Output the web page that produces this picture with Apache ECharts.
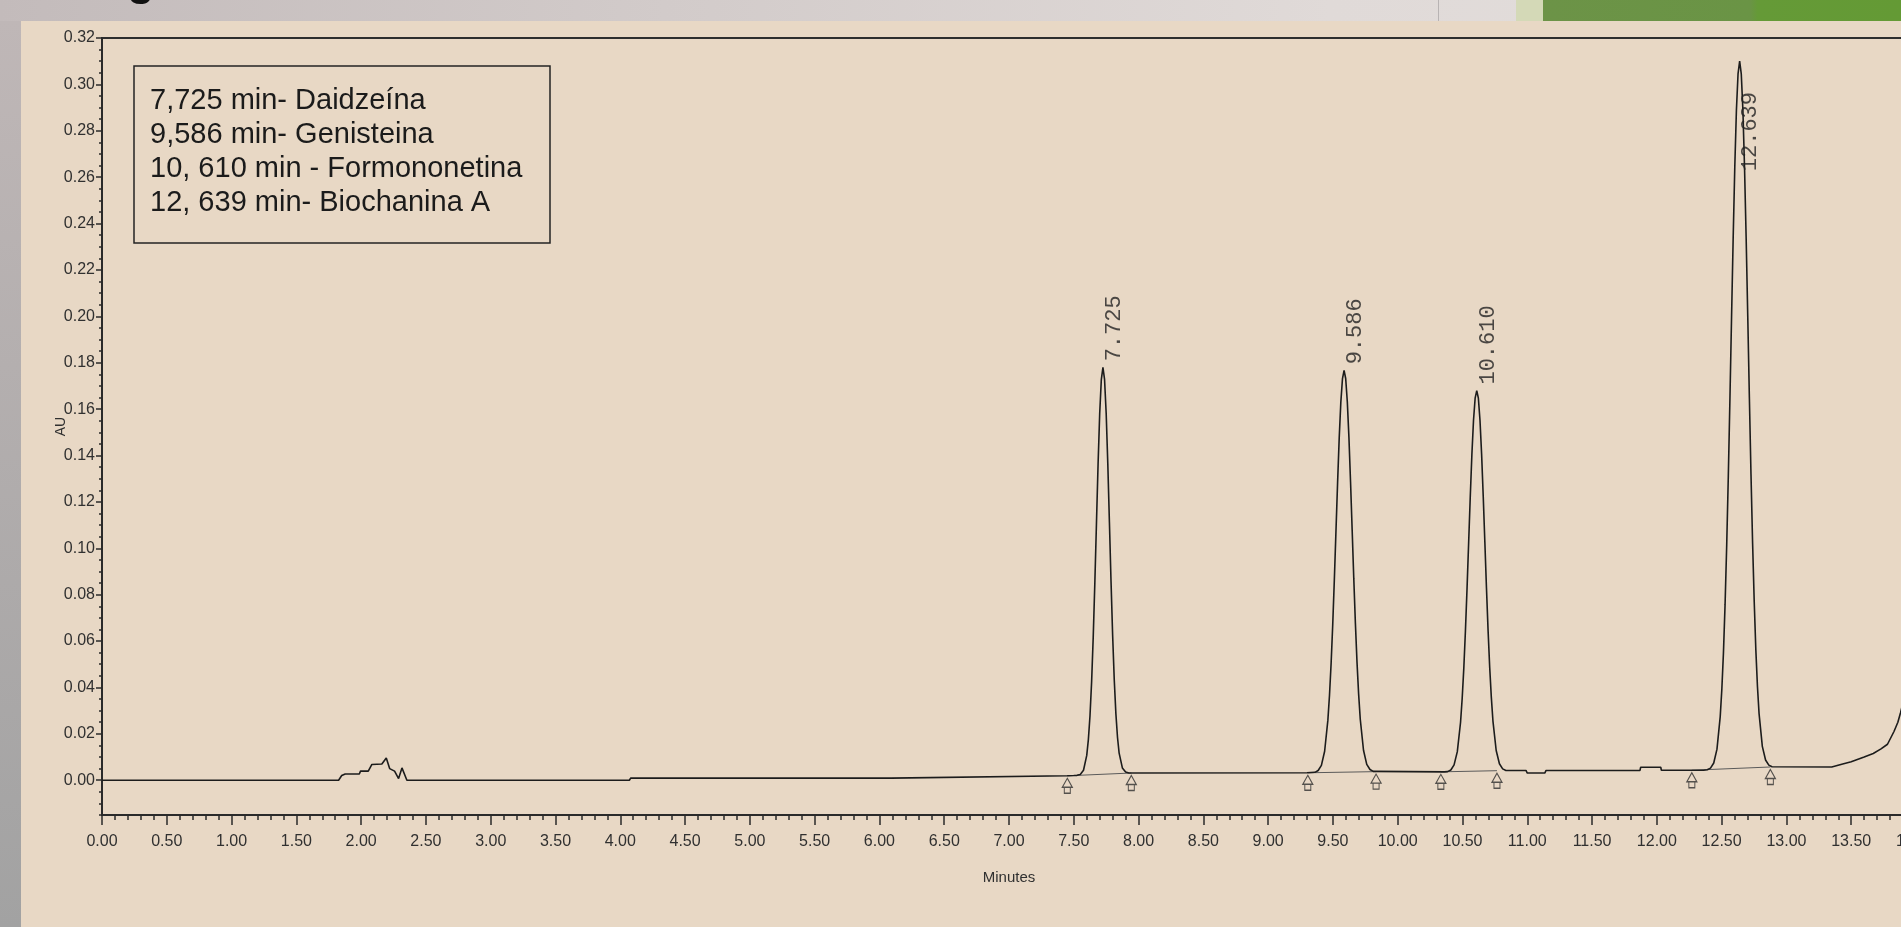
<!DOCTYPE html>
<html>
<head>
<meta charset="utf-8">
<script src="https://cdn.jsdelivr.net/npm/echarts@6/dist/echarts.min.js"></script>
<style>
html,body{margin:0;padding:0;width:1901px;height:927px;overflow:hidden;background:#d6cfcd;}
#topband{position:absolute;left:0;top:0;width:1901px;height:21px;background:linear-gradient(to right,#c3bbbb 0%,#d2cbca 35%,#e0dad8 70%,#e3dedc 100%);}
#vline{position:absolute;left:1438px;top:0;width:1px;height:21px;background:#b8b3b3;}
#lightgreen{position:absolute;left:1516px;top:0;width:27px;height:21px;background:#d4d9b7;}
#green{position:absolute;left:1543px;top:0;width:358px;height:21px;background:linear-gradient(to right,#6c9347 0%,#6a9445 58%,#659a37 60%,#649a35 100%);}
#leftstrip{position:absolute;left:0;top:21px;width:21px;height:906px;background:linear-gradient(to bottom,#bfb7b7,#a2a2a2);}
#panel{position:absolute;left:21px;top:21px;width:1880px;height:906px;background:#e8d8c5;}
#chart{position:absolute;left:0;top:0;width:1901px;height:927px;}
</style>
</head>
<body>
<div id="topband"></div>
<div id="vline"></div>
<div id="lightgreen"></div>
<div id="green"></div>
<div id="leftstrip"></div>
<div id="panel"></div>
<div id="chart"></div>
<script>
// ---- data ----
const times = [
  0, 1.826, 1.85, 1.877, 1.986, 1.995, 2.055, 2.083, 2.16, 2.194, 2.22, 2.258, 2.289, 2.315, 2.353,
  4.07, 4.08, 6.09, 6.1, 7.45, 7.5,
  7.525, 7.55, 7.575, 7.6, 7.6125, 7.625, 7.6375, 7.65, 7.6625, 7.675, 7.6875, 7.7, 7.7125, 7.725,
  7.7375, 7.75, 7.7625, 7.775, 7.7875, 7.8, 7.8125, 7.825, 7.8375, 7.85, 7.875, 7.9, 7.925,
  9.3, 9.361, 9.386, 9.411, 9.436, 9.461, 9.4735, 9.486, 9.4985, 9.511, 9.5235, 9.536, 9.5485, 9.561, 9.5735, 9.586,
  9.5985, 9.611, 9.6235, 9.636, 9.6485, 9.661, 9.6735, 9.686, 9.6985, 9.711, 9.736, 9.761, 9.786, 9.811,
  10.36, 10.385, 10.41, 10.435, 10.46, 10.485, 10.4975, 10.51, 10.5225, 10.535, 10.5475, 10.56, 10.5725, 10.585, 10.5975, 10.61,
  10.6225, 10.635, 10.6475, 10.66, 10.6725, 10.685, 10.6975, 10.71, 10.7225, 10.735, 10.76, 10.785, 10.81, 10.835,
  10.99, 11.0, 11.135, 11.145, 11.27, 11.28, 11.29, 11.87, 11.875, 12.03, 12.035, 12.36,
  12.389, 12.414, 12.439, 12.464, 12.489, 12.5015, 12.514, 12.5265, 12.539, 12.5515, 12.564, 12.5765, 12.589, 12.6015, 12.614, 12.6265, 12.639,
  12.6515, 12.664, 12.6765, 12.689, 12.7015, 12.714, 12.7265, 12.739, 12.7515, 12.764, 12.7765, 12.789, 12.814, 12.839, 12.864, 12.889,
  13.35, 13.42, 13.5, 13.6, 13.67, 13.73, 13.78, 13.83, 13.86, 13.88, 13.92, 13.96
];
const absorbance = [
  0, 0, 0.002, 0.0027, 0.0027, 0.0039, 0.0039, 0.0068, 0.007, 0.0096, 0.005, 0.0039, 0.0007, 0.0053, 0,
  0, 0.0009, 0.0009, 0.0017, 0.0019, 0.002,
  0.0021, 0.0025, 0.0043, 0.0107, 0.0175, 0.0277, 0.0423, 0.0617, 0.0851, 0.1108, 0.1363, 0.1581, 0.1727, 0.178,
  0.1728, 0.1582, 0.1365, 0.1112, 0.0856, 0.0623, 0.0431, 0.0286, 0.0184, 0.0117, 0.0053, 0.0035, 0.0031,
  0.0032, 0.0034, 0.0042, 0.0064, 0.0125, 0.0259, 0.0366, 0.0503, 0.0671, 0.0866, 0.1075, 0.1283, 0.1476, 0.163, 0.173, 0.1767,
  0.1732, 0.1632, 0.1478, 0.1286, 0.1078, 0.0869, 0.0675, 0.0507, 0.037, 0.0263, 0.0129, 0.0068, 0.0046, 0.0038,
  0.0036, 0.0037, 0.0044, 0.0066, 0.0123, 0.025, 0.0352, 0.0482, 0.0642, 0.0826, 0.1025, 0.1223, 0.1405, 0.1552, 0.1647, 0.168,
  0.1647, 0.1552, 0.1406, 0.1224, 0.1027, 0.0829, 0.0645, 0.0486, 0.0357, 0.0255, 0.0128, 0.0071, 0.0049, 0.0042,
  0.0042, 0.0031, 0.0031, 0.0042, 0.0042, 0.0036, 0.0042, 0.0042, 0.0056, 0.0056, 0.0043, 0.0043,
  0.0045, 0.0052, 0.0074, 0.0134, 0.0274, 0.0392, 0.055, 0.0758, 0.1012, 0.1312, 0.1645, 0.1996, 0.2339, 0.2645, 0.2889, 0.3045, 0.31,
  0.3045, 0.289, 0.2646, 0.2342, 0.2001, 0.1651, 0.1319, 0.1021, 0.0768, 0.0561, 0.0403, 0.0286, 0.0146, 0.0087, 0.0065, 0.0058,
  0.0057, 0.0068, 0.008, 0.01, 0.0115, 0.0135, 0.0155, 0.021, 0.025, 0.029, 0.038, 0.05
];
const peakTimes = [7.725, 9.586, 10.610, 12.639];
const peakHeights = [0.178, 0.1767, 0.168, 0.310];
const peakLabels = ['7.725', '9.586', '10.610', '12.639'];
// integration start / end marks (pairs per peak)
const markerTimes = [7.45, 7.944, 9.306, 9.833, 10.333, 10.766, 12.27, 12.876];
const markerValues = [0.0019, 0.0031, 0.0032, 0.0037, 0.0036, 0.0041, 0.0043, 0.0057];
const yTicks = [0, 0.02, 0.04, 0.06, 0.08, 0.10, 0.12, 0.14, 0.16, 0.18, 0.20, 0.22, 0.24, 0.26, 0.28, 0.30, 0.32];
const xTicks = [0, 0.5, 1, 1.5, 2, 2.5, 3, 3.5, 4, 4.5, 5, 5.5, 6, 6.5, 7, 7.5, 8, 8.5, 9, 9.5, 10, 10.5, 11, 11.5, 12, 12.5, 13, 13.5, 14];
const legendLines = ['7,725 min- Daidzeína', '9,586 min- Genisteina', '10, 610 min - Formononetina', '12, 639 min- Biochanina A'];
const xAxisName = 'Minutes';
const yAxisName = 'AU';

// ---- chart ----
const INK = '#1c1c1c';
const SANS = "'Liberation Sans',Arial,sans-serif";
const chart = echarts.init(document.getElementById('chart'), null, {renderer: 'canvas'});

const traceData = times.map((t, i) => [t, absorbance[i]]);
const baselineData = [];
for (let i = 0; i < markerTimes.length; i += 2) {
  baselineData.push([markerTimes[i], markerValues[i]]);
  baselineData.push([markerTimes[i + 1], markerValues[i + 1]]);
  baselineData.push([markerTimes[i + 1], '-']);
}
const markerData = markerTimes.map((t, i) => [t, markerValues[i]]);
const labelData = peakTimes.map((t, i) => {
  const item = {name: peakLabels[i], value: [t, peakHeights[i]]};
  if (i === 3) item.label = {position: [1, 111]};
  return item;
});

const axisLineStyle = {color: '#2a2a2a', width: 2};
const option = {
  animation: false,
  backgroundColor: 'transparent',
  grid: {left: 102, top: 38, right: -15, bottom: 112, show: true, borderColor: '#2e2e2e', borderWidth: 2, backgroundColor: 'transparent', containLabel: false, outerBoundsMode: 'none'},
  xAxis: [
    {type: 'value', min: 0, max: 14, interval: 0.1, position: 'bottom', offset: 0,
     axisLine: {show: true, onZero: false, lineStyle: axisLineStyle},
     axisTick: {show: true, length: 5, lineStyle: {color: '#2a2a2a', width: 1.5}},
     axisLabel: {show: false}, splitLine: {show: false}},
    {type: 'value', min: 0, max: 14, position: 'bottom', offset: 0,
     axisLine: {show: false, onZero: false},
     axisTick: {show: true, customValues: xTicks, length: 10, lineStyle: {color: '#2a2a2a', width: 1.5}},
     axisLabel: {show: true, customValues: xTicks, formatter: v => v.toFixed(2), margin: 19, fontFamily: SANS, fontSize: 16, color: '#303030'},
     splitLine: {show: false},
     name: xAxisName, nameLocation: 'middle', nameGap: 55, nameMoveOverlap: false,
     nameTextStyle: {fontFamily: SANS, fontSize: 15, color: '#303030'}}
  ],
  yAxis: [
    {type: 'value', min: -0.015, max: 0.32, interval: 0.005, position: 'left', offset: 0,
     axisLine: {show: true, onZero: false, lineStyle: axisLineStyle},
     axisTick: {show: true, length: 3, lineStyle: {color: '#2a2a2a', width: 1.5}},
     axisLabel: {show: false}, splitLine: {show: false}},
    {type: 'value', min: -0.015, max: 0.32, position: 'left', offset: 0,
     axisLine: {show: false, onZero: false},
     axisTick: {show: true, customValues: yTicks, length: 6, lineStyle: {color: '#2a2a2a', width: 1.5}},
     axisLabel: {show: true, customValues: yTicks, formatter: v => v.toFixed(2), margin: 7, fontFamily: SANS, fontSize: 16, color: '#303030'},
     splitLine: {show: false},
     name: yAxisName, nameLocation: 'middle', nameGap: 34, nameRotate: 90, nameMoveOverlap: false,
     nameTextStyle: {fontFamily: SANS, fontSize: 14, color: '#303030'}}
  ],
  series: [
    {type: 'line', name: 'trace', xAxisIndex: 0, yAxisIndex: 0, data: traceData, showSymbol: false, symbol: 'none',
     lineStyle: {color: INK, width: 1.6}, silent: true, z: 3},
    {type: 'line', name: 'baseline', xAxisIndex: 0, yAxisIndex: 0, data: baselineData, showSymbol: false, symbol: 'none',
     connectNulls: false, lineStyle: {color: '#5a5a5a', width: 1}, silent: true, z: 2},
    {type: 'scatter', name: 'marks', xAxisIndex: 0, yAxisIndex: 0, data: markerData,
     symbol: 'path://M5,0 L10,9 L0,9 Z M2,9 L8,9 L8,15 L2,15 Z', symbolSize: [10, 15], symbolOffset: [0, 10],
     itemStyle: {color: '#e8d8c5', borderColor: '#2e2e2e', borderWidth: 1.2}, silent: true, z: 4},
    {type: 'scatter', name: 'peaklabels', xAxisIndex: 0, yAxisIndex: 0, data: labelData,
     symbolSize: 2, itemStyle: {color: 'rgba(0,0,0,0)'}, silent: true, z: 5,
     label: {show: true, formatter: '{b}', rotate: 90, position: [1, -5], align: 'left', verticalAlign: 'top',
             fontFamily: "'Liberation Mono','DejaVu Sans Mono',monospace", fontSize: 22, color: '#222'}}
  ],
  graphic: [
    {type: 'text', x: 141, y: -17, silent: true,
     style: {text: 'g', font: 'bold 44px "Liberation Sans", Arial, sans-serif', fill: '#111', align: 'center', verticalAlign: 'middle'}},
    {type: 'rect', shape: {x: 134, y: 66, width: 416, height: 177}, silent: true,
     style: {fill: 'rgba(0,0,0,0)', stroke: '#232323', lineWidth: 1.5}},
    {type: 'text', x: 150, y: 84, silent: true,
     style: {text: legendLines.join('\n'), font: '29px "Liberation Sans", Arial, sans-serif', lineHeight: 34, fill: '#1b1b1b', align: 'left', verticalAlign: 'top'}}
  ]
};
chart.setOption(option);
</script>
</body>
</html>
